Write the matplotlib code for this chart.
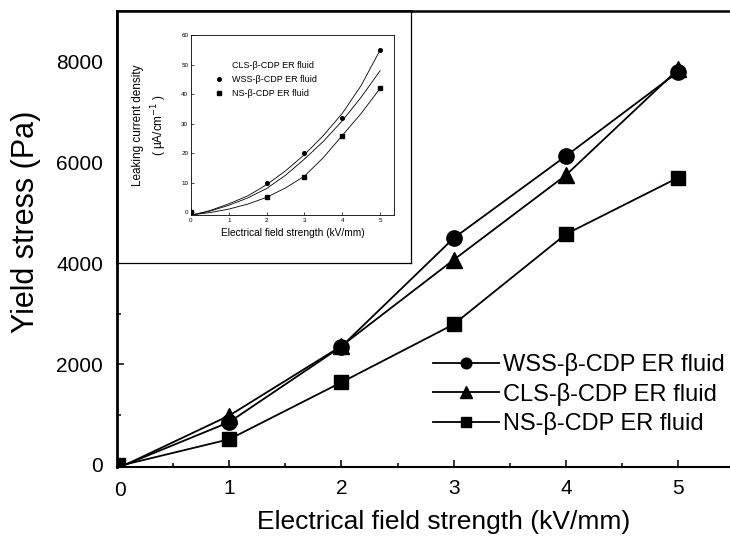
import matplotlib
matplotlib.use("Agg")
import matplotlib.pyplot as plt
from matplotlib.lines import Line2D

plt.rcParams['font.family'] = ['Liberation Sans', 'DejaVu Sans']

# ---------------- main data ----------------
field = [0.09, 1, 2, 3, 4, 5]
wss_stress = [20, 850, 2350, 4500, 6130, 7800]
cls_stress = [20, 980, 2360, 4070, 5750, 7850]
ns_stress = [20, 510, 1640, 2790, 4580, 5700]
origin_x = [0.03]
origin_y = [40]
x_ticks = [1, 2, 3, 4, 5]
y_ticks = [0, 2000, 4000, 6000, 8000]

labels_main = ['WSS-β-CDP ER fluid', 'CLS-β-CDP ER fluid', 'NS-β-CDP ER fluid']

# ---------------- inset data ----------------
inset_curve_x = [0.1, 0.5, 1, 1.5, 2, 2.5, 3, 3.5, 4, 4.5, 5]
inset_curve_top = [-0.8, 0.5, 2.8, 5.5, 9.3, 14, 19.5, 26, 33.5, 43, 55]
inset_curve_mid = [-0.8, 0.3, 2.3, 4.8, 8.0, 12.5, 18, 24, 31, 39, 48]
inset_curve_bot = [-0.8, -0.2, 1.0, 2.7, 5.0, 8.2, 12.2, 18.5, 26, 33.5, 42]
inset_pts_x = [0, 2, 3, 4, 5]
inset_wss = [0, 10, 20, 32, 55]
inset_ns = [0, 5, 12, 26, 42]
inset_x_ticks = [0, 1, 2, 3, 4, 5]
inset_y_ticks = [0, 10, 20, 30, 40, 50, 60]
labels_inset = ['CLS-β-CDP ER fluid', 'WSS-β-CDP ER fluid', 'NS-β-CDP ER fluid']

W, H = 730, 539
fig = plt.figure(figsize=(W / 100, H / 100), dpi=100)

def fr(l, t, r, b):
    return [l / W, 1 - b / H, (r - l) / W, (b - t) / H]

ax = fig.add_axes(fr(117, 11, 730, 467))
ax.set_xlim(0, 5.463)
ax.set_ylim(-40, 9008)

mk = list(range(1, len(field)))
ax.plot(field, wss_stress, color='black', lw=1.3, marker='o', ms=11, markevery=mk, label=labels_main[0])
ax.plot(field, cls_stress, color='black', lw=1.3, marker='^', ms=12, markevery=mk, label=labels_main[1])
ax.plot(field, ns_stress, color='black', lw=1.3, marker='s', ms=10, markevery=mk, label=labels_main[2])
ax.plot(origin_x, origin_y, ls='none', marker='s', ms=7, color='black')

ax.spines['right'].set_visible(False)
ax.spines['left'].set_linewidth(2.0)
ax.spines['top'].set_linewidth(1.8)
ax.spines['bottom'].set_linewidth(1.5)

ax.set_xticks(x_ticks)
ax.set_yticks(y_ticks)
ax.set_xticks([0.5, 1.5, 2.5, 3.5, 4.5], minor=True)
ax.set_yticks([1000, 3000, 5000, 7000], minor=True)
ax.tick_params(which='both', direction='in', top=False, right=False, width=1.1)
ax.tick_params(which='major', length=5)
ax.tick_params(which='minor', length=3)
ax.tick_params(axis='y', labelsize=15, pad=10)
ax.tick_params(axis='x', labelsize=15, pad=9)
ax.text(0.005, -0.03, '0', transform=ax.transAxes, fontsize=15, ha='center', va='top')

ax.set_xlabel('Electrical field strength (kV/mm)', fontsize=19)
ax.xaxis.set_label_coords(0.533, -0.094)
ax.set_ylabel('Yield stress (Pa)', fontsize=22)
ax.yaxis.set_label_coords(-0.124, 0.537)

leg = ax.legend(loc='center left', bbox_to_anchor=(433 / W, 1 - 394 / H),
                bbox_transform=fig.transFigure, frameon=False, fontsize=17,
                borderpad=0, borderaxespad=0, handlelength=2.8,
                handletextpad=0.15, labelspacing=0.28, markerscale=0.7)

# ---------------- inset frame ----------------
frame = fig.add_axes(fr(117, 11, 411, 263))
frame.set_xticks([])
frame.set_yticks([])
for s in frame.spines.values():
    s.set_linewidth(0.9)
frame.spines['left'].set_linewidth(2.0)
frame.spines['top'].set_linewidth(1.8)
frame.set_facecolor('white')

ins = fig.add_axes(fr(191, 35.4, 393.7, 215))
ins.set_xlim(0, 5.36)
ins.set_ylim(-1, 60)
ins.plot(inset_curve_x, inset_curve_top, color='black', lw=0.6)
ins.plot(inset_curve_x, inset_curve_mid, color='black', lw=0.6)
ins.plot(inset_curve_x, inset_curve_bot, color='black', lw=0.6)
ins.plot(inset_pts_x, inset_wss, ls='none', marker='o', ms=2.6, color='black')
ins.plot(inset_pts_x, inset_ns, ls='none', marker='s', ms=2.4, color='black')
for s in ins.spines.values():
    s.set_linewidth(0.6)
ins.set_xticks(inset_x_ticks)
ins.set_yticks(inset_y_ticks)
ins.tick_params(direction='in', length=2, width=0.5, labelsize=4.5, pad=2)
ins.set_xlabel('Electrical field strength (kV/mm)', fontsize=7.3, labelpad=4)
ins.set_ylabel('Leaking current density\n( μA/cm$^{-1}$ )', fontsize=8.5, labelpad=9,
               linespacing=1.4)

ih = [Line2D([], [], ls='none', color='black'),
      Line2D([], [], ls='none', marker='o', ms=2.6, color='black'),
      Line2D([], [], ls='none', marker='s', ms=2.4, color='black')]
ins.legend(ih, labels_inset, loc='upper left', bbox_to_anchor=(214 / W, 1 - 61 / H),
           bbox_transform=fig.transFigure, frameon=False, fontsize=6.5,
           borderpad=0, borderaxespad=0, handlelength=1.0, handletextpad=1.0,
           labelspacing=0.55)

fig.savefig('out.png', dpi=100)
